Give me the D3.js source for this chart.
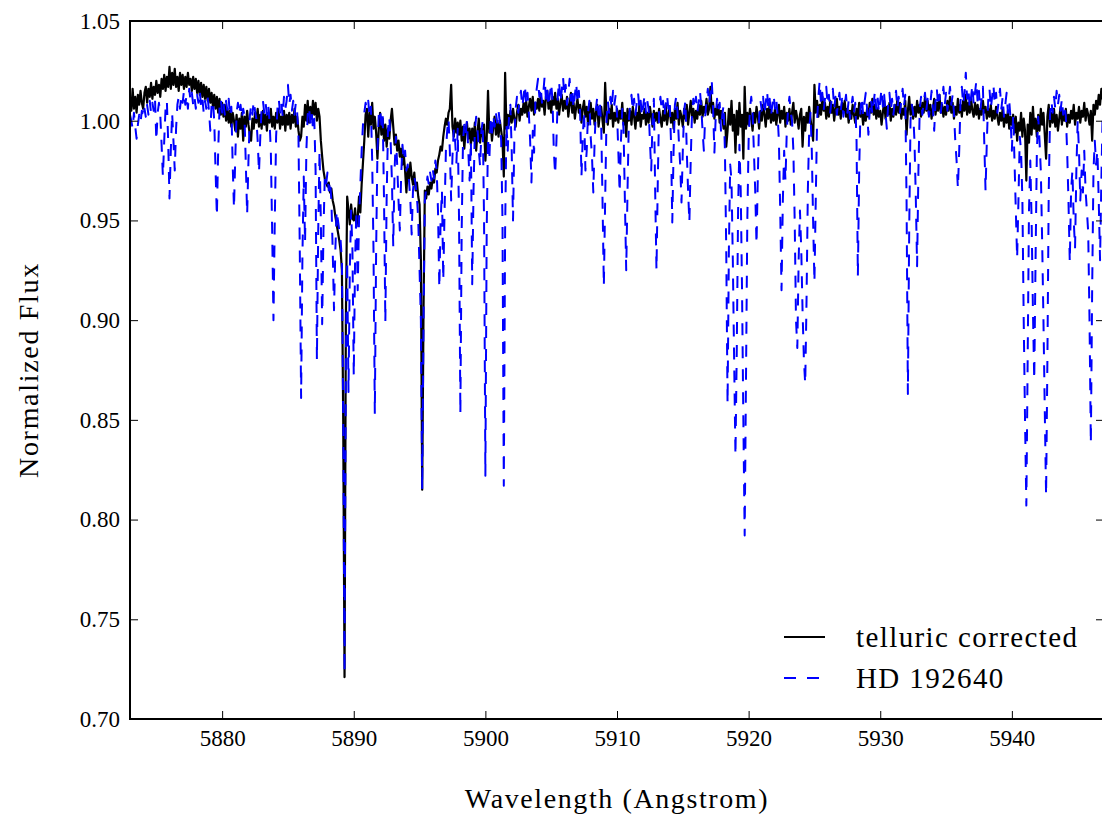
<!DOCTYPE html>
<html>
<head>
<meta charset="utf-8">
<script src="https://cdn.jsdelivr.net/npm/d3@7"></script>
<style>
  body { margin: 0; background: white; }
  svg text { font-family: "Liberation Serif"; fill: black; }
</style>
</head>
<body>
<div id="chart"></div>
<script>
// Spectrum sampling (uniform grid, Angstrom)
const waveStart = 5873.0;
const waveStep = 0.1;

// telluric corrected spectrum, one row per Angstrom (5873.0 ... 5947.0)
const correctedFlux = [
  1.010, 1.005, 1.016, 1.006, 1.012, 1.004, 1.013, 1.008, 1.015, 1.009, // 5873
  1.006, 1.014, 1.017, 1.009, 1.016, 1.012, 1.019, 1.011, 1.017, 1.013, // 5874
  1.020, 1.014, 1.018, 1.012, 1.021, 1.016, 1.023, 1.015, 1.022, 1.017, // 5875
  1.027, 1.016, 1.024, 1.018, 1.026, 1.017, 1.022, 1.015, 1.024, 1.018, // 5876
  1.023, 1.016, 1.022, 1.017, 1.024, 1.018, 1.021, 1.015, 1.022, 1.016, // 5877
  1.021, 1.014, 1.020, 1.013, 1.019, 1.012, 1.018, 1.011, 1.017, 1.010, // 5878
  1.016, 1.009, 1.014, 1.007, 1.013, 1.006, 1.012, 1.004, 1.011, 1.003, // 5879
  1.009, 1.002, 1.008, 1.000, 1.006, 0.999, 1.005, 0.997, 1.004, 1.000, // 5880
  0.995, 1.003, 0.992, 1.001, 0.996, 1.004, 0.990, 1.002, 0.997, 1.005, // 5881
  0.998, 0.993, 0.990, 1.001, 0.996, 1.004, 0.999, 1.006, 0.997, 1.003, // 5882
  0.996, 1.005, 0.998, 1.003, 0.995, 1.004, 0.999, 1.006, 0.997, 1.002, // 5883
  0.996, 1.004, 0.999, 1.006, 0.996, 1.002, 0.998, 1.005, 0.995, 1.003, // 5884
  0.998, 1.004, 0.996, 1.003, 0.999, 1.006, 0.997, 1.002, 0.995, 0.990, // 5885
  0.992, 1.002, 0.997, 1.008, 1.000, 1.010, 0.999, 1.007, 1.001, 1.010, // 5886
  1.003, 1.009, 1.000, 1.006, 1.002, 0.990, 0.982, 0.975, 0.971, 0.969, // 5887
  0.967, 0.969, 0.964, 0.966, 0.960, 0.957, 0.952, 0.948, 0.944, 0.940, // 5888
  0.935, 0.925, 0.850, 0.721, 0.900, 0.962, 0.955, 0.948, 0.958, 0.951, // 5889
  0.950, 0.956, 0.947, 0.951, 0.962, 0.954, 0.968, 0.979, 0.990, 1.003, // 5890
  1.006, 0.992, 1.004, 0.998, 1.009, 0.996, 1.002, 0.994, 0.981, 0.996, // 5891
  1.004, 0.993, 1.001, 0.990, 0.998, 0.987, 0.996, 0.991, 1.000, 1.006, // 5892
  0.997, 0.988, 0.993, 0.985, 0.990, 0.982, 0.986, 0.978, 0.983, 0.975, // 5893
  0.964, 0.976, 0.970, 0.979, 0.972, 0.968, 0.974, 0.965, 0.969, 0.962, // 5894
  0.958, 0.930, 0.815, 0.905, 0.965, 0.961, 0.967, 0.963, 0.969, 0.966, // 5895
  0.971, 0.969, 0.976, 0.974, 0.980, 0.983, 0.987, 0.985, 0.992, 0.997, // 5896
  1.001, 0.998, 1.004, 1.006, 1.018, 0.997, 0.992, 1.001, 0.994, 0.999, // 5897
  0.993, 1.000, 0.990, 0.997, 0.986, 0.995, 0.999, 0.991, 0.996, 0.988, // 5898
  0.996, 0.990, 0.999, 0.985, 0.994, 1.001, 0.989, 0.996, 0.992, 0.998, // 5899
  0.980, 0.991, 1.015, 0.994, 0.999, 0.990, 0.997, 1.002, 0.993, 0.999, // 5900
  0.992, 1.000, 0.995, 0.990, 0.972, 1.024, 0.996, 1.003, 0.998, 1.005, // 5901
  0.999, 1.006, 1.001, 0.997, 1.004, 1.008, 1.000, 1.006, 1.003, 1.009, // 5902
  1.004, 1.010, 1.002, 1.007, 1.011, 1.005, 1.012, 1.003, 1.009, 1.006, // 5903
  1.011, 1.005, 1.013, 1.007, 1.010, 1.003, 1.012, 1.015, 1.006, 1.010, // 5904
  1.004, 1.012, 1.008, 1.014, 1.006, 1.011, 1.003, 1.009, 1.013, 1.005, // 5905
  1.010, 1.006, 1.012, 1.002, 1.008, 1.014, 1.004, 1.009, 1.001, 1.007, // 5906
  1.011, 1.004, 1.008, 0.999, 1.006, 1.010, 1.002, 1.007, 0.998, 1.005, // 5907
  1.009, 1.001, 1.006, 0.998, 1.004, 1.008, 0.997, 1.003, 1.007, 1.000, // 5908
  0.994, 1.019, 1.003, 0.998, 1.006, 1.001, 1.008, 0.997, 1.004, 1.000, // 5909
  1.006, 0.999, 1.005, 1.001, 1.009, 0.998, 1.004, 0.992, 1.006, 1.000, // 5910
  1.005, 0.998, 1.007, 1.002, 0.996, 1.004, 1.000, 1.008, 0.997, 1.003, // 5911
  1.001, 1.006, 0.998, 1.004, 0.999, 1.007, 1.002, 0.997, 1.005, 1.000, // 5912
  1.004, 0.999, 1.006, 1.001, 0.997, 1.005, 1.000, 1.008, 0.998, 1.003, // 5913
  1.007, 0.999, 1.004, 0.996, 1.006, 1.001, 1.009, 0.998, 1.005, 1.002, // 5914
  0.997, 1.006, 1.001, 1.008, 0.998, 1.004, 1.010, 1.002, 1.006, 0.999, // 5915
  1.005, 1.001, 1.008, 1.003, 1.010, 1.002, 1.007, 1.004, 1.011, 1.003, // 5916
  1.006, 1.017, 1.004, 1.009, 1.001, 1.006, 1.003, 1.008, 0.999, 1.005, // 5917
  1.001, 0.996, 1.004, 0.987, 0.995, 1.006, 0.998, 1.010, 0.995, 1.003, // 5918
  0.984, 1.005, 0.993, 1.009, 0.997, 1.003, 0.981, 1.017, 0.996, 1.004, // 5919
  0.998, 1.006, 1.001, 0.995, 1.004, 0.999, 1.007, 1.002, 0.996, 1.005, // 5920
  1.000, 1.008, 1.003, 0.997, 1.006, 1.001, 1.009, 0.999, 1.004, 1.000, // 5921
  1.006, 0.998, 1.003, 1.008, 0.999, 1.005, 1.001, 1.007, 0.997, 1.004, // 5922
  1.000, 1.006, 0.998, 1.004, 1.009, 0.999, 1.005, 1.001, 0.996, 1.003, // 5923
  1.006, 0.987, 1.002, 0.995, 1.004, 0.999, 1.007, 1.001, 0.996, 0.990, // 5924
  1.018, 1.004, 1.010, 1.002, 1.008, 1.003, 1.012, 1.005, 1.009, 1.001, // 5925
  1.007, 1.002, 1.010, 1.004, 1.008, 1.000, 1.006, 1.011, 1.003, 1.007, // 5926
  1.001, 1.009, 1.004, 1.010, 1.002, 1.006, 0.999, 1.005, 1.001, 1.008, // 5927
  1.003, 0.999, 1.006, 1.001, 1.009, 1.002, 1.005, 0.998, 1.004, 1.000, // 5928
  1.006, 1.002, 1.009, 1.004, 1.011, 1.003, 1.008, 1.001, 1.006, 1.002, // 5929
  1.005, 0.998, 1.004, 1.010, 1.001, 1.007, 1.003, 1.009, 1.000, 1.006, // 5930
  1.002, 1.008, 1.003, 1.011, 1.004, 1.009, 1.001, 1.006, 1.003, 1.010, // 5931
  0.993, 1.005, 1.012, 1.003, 1.008, 1.001, 1.007, 1.002, 1.010, 1.004, // 5932
  1.008, 1.002, 1.009, 1.004, 1.012, 1.005, 1.010, 1.003, 1.008, 1.001, // 5933
  1.006, 1.011, 1.003, 1.009, 1.005, 1.013, 1.004, 1.008, 1.002, 1.007, // 5934
  1.003, 1.010, 1.005, 1.012, 1.004, 1.009, 1.001, 1.007, 1.003, 1.011, // 5935
  1.004, 1.008, 1.002, 1.010, 1.005, 1.013, 1.003, 1.009, 1.004, 1.011, // 5936
  1.005, 1.002, 1.009, 1.003, 1.008, 1.001, 1.006, 1.003, 1.010, 1.004, // 5937
  1.007, 1.001, 1.006, 1.002, 1.008, 1.000, 1.005, 1.001, 1.007, 1.002, // 5938
  0.998, 1.004, 1.000, 1.006, 0.997, 1.003, 0.999, 1.005, 0.996, 1.002, // 5939
  0.998, 1.003, 0.994, 1.002, 0.990, 0.999, 0.995, 1.004, 0.992, 1.001, // 5940
  0.995, 0.970, 0.998, 0.989, 1.004, 0.993, 1.007, 0.996, 1.001, 0.992, // 5941
  1.003, 0.995, 1.006, 0.998, 1.004, 0.993, 0.981, 1.002, 1.008, 0.997, // 5942
  1.004, 0.999, 1.006, 0.997, 1.003, 0.995, 1.001, 1.007, 0.998, 1.004, // 5943
  1.000, 1.006, 0.997, 1.003, 0.999, 1.005, 1.001, 1.008, 0.998, 1.004, // 5944
  1.001, 1.007, 0.999, 1.005, 1.002, 1.009, 1.000, 1.006, 1.003, 0.998, // 5945
  1.005, 0.990, 1.008, 1.003, 1.010, 1.006, 1.013, 1.008, 1.016, 1.011, // 5946
  1.019                                                                 // 5947
];

// telluric standard HD 192640, same grid
const standardFlux = [
  1.003, 1.000, 0.996, 1.004, 0.997, 0.991, 0.998, 1.003, 0.999, 1.005, // 5873
  1.001, 1.006, 1.002, 1.008, 1.003, 1.010, 1.004, 1.009, 1.005, 1.011, // 5874
  0.990, 1.004, 1.009, 1.003, 0.988, 0.972, 0.990, 1.006, 1.010, 0.990, // 5875
  0.961, 0.985, 1.004, 0.990, 0.975, 0.996, 1.008, 1.012, 1.006, 1.013, // 5876
  1.009, 1.015, 1.008, 1.013, 1.006, 1.016, 1.010, 1.014, 1.008, 1.012, // 5877
  1.006, 1.013, 1.009, 1.015, 1.007, 1.011, 1.004, 1.010, 1.006, 1.012, // 5878
  1.005, 0.995, 1.008, 1.010, 1.000, 0.975, 0.952, 0.985, 1.006, 1.011, // 5879
  1.004, 1.009, 1.003, 1.010, 1.005, 1.011, 1.002, 1.007, 0.978, 0.956, // 5880
  0.982, 1.004, 1.009, 1.003, 1.008, 1.001, 1.006, 1.002, 0.978, 0.953, // 5881
  0.980, 1.002, 1.008, 1.003, 1.010, 1.005, 1.001, 0.990, 0.974, 0.992, // 5882
  1.006, 1.010, 1.004, 1.009, 1.003, 1.008, 1.000, 0.985, 0.945, 0.900, // 5883
  0.950, 0.992, 1.006, 1.011, 1.004, 1.009, 1.002, 1.012, 1.006, 1.010, // 5884
  1.018, 1.008, 1.013, 1.005, 1.010, 1.003, 1.009, 1.004, 0.992, 0.935, // 5885
  0.861, 0.932, 0.972, 0.939, 0.985, 1.003, 1.007, 0.999, 1.004, 0.996, // 5886
  1.001, 0.975, 0.880, 0.945, 0.985, 0.950, 0.898, 0.945, 0.972, 0.968, // 5887
  0.974, 0.965, 0.970, 0.960, 0.935, 0.905, 0.935, 0.955, 0.950, 0.945, // 5888
  0.940, 0.930, 0.850, 0.723, 0.880, 0.930, 0.864, 0.925, 0.955, 0.935, // 5889
  0.872, 0.930, 0.955, 0.915, 0.950, 0.968, 0.985, 0.998, 1.004, 1.009, // 5890
  1.006, 1.010, 1.002, 1.007, 0.980, 0.935, 0.853, 0.935, 0.985, 1.003, // 5891
  1.006, 0.998, 1.003, 0.960, 0.899, 0.962, 0.995, 1.002, 0.990, 0.970, // 5892
  0.937, 0.975, 0.992, 0.978, 0.960, 0.945, 0.972, 0.988, 0.980, 0.985, // 5893
  0.975, 0.978, 0.970, 0.960, 0.943, 0.965, 0.972, 0.968, 0.962, 0.950, // 5894
  0.925, 0.900, 0.815, 0.900, 0.960, 0.966, 0.972, 0.968, 0.974, 0.970, // 5895
  0.976, 0.971, 0.980, 0.975, 0.955, 0.916, 0.950, 0.965, 0.920, 0.955, // 5896
  0.985, 0.995, 1.001, 0.985, 0.960, 0.982, 0.996, 0.990, 0.979, 0.996, // 5897
  0.950, 0.853, 0.945, 0.990, 0.998, 0.993, 1.000, 0.985, 0.970, 0.990, // 5898
  0.918, 0.965, 0.995, 1.002, 0.996, 0.985, 0.977, 0.995, 1.000, 0.950, // 5899
  0.822, 0.945, 0.992, 0.980, 1.000, 0.994, 1.003, 0.997, 1.004, 0.999, // 5900
  1.005, 0.999, 0.990, 0.950, 0.817, 0.945, 0.998, 0.985, 1.003, 1.008, // 5901
  0.985, 0.950, 0.990, 1.006, 1.012, 1.004, 1.010, 1.015, 1.007, 1.012, // 5902
  1.018, 1.008, 1.014, 1.004, 0.990, 0.969, 0.995, 0.984, 1.010, 1.016, // 5903
  1.021, 1.012, 1.017, 1.009, 1.014, 1.022, 1.011, 1.016, 1.007, 1.013, // 5904
  1.019, 1.010, 0.985, 0.973, 0.990, 1.012, 1.020, 1.009, 1.015, 1.022, // 5905
  1.012, 1.018, 1.008, 1.014, 1.021, 1.010, 1.016, 1.006, 1.013, 1.019, // 5906
  1.009, 1.015, 1.004, 0.972, 0.992, 1.005, 0.975, 0.985, 1.004, 1.010, // 5907
  0.992, 0.982, 0.964, 0.990, 1.006, 1.012, 1.003, 1.009, 0.998, 0.960, // 5908
  0.917, 0.960, 1.000, 1.010, 1.004, 1.012, 1.006, 1.015, 1.008, 1.013, // 5909
  1.004, 0.985, 0.964, 0.990, 1.006, 0.995, 0.960, 0.925, 0.965, 1.000, // 5910
  1.008, 1.013, 1.005, 1.011, 1.003, 1.009, 1.014, 1.006, 1.010, 1.002, // 5911
  1.008, 1.013, 1.004, 1.010, 1.006, 0.990, 0.975, 1.000, 1.011, 0.965, // 5912
  0.925, 0.970, 1.006, 1.012, 1.005, 1.010, 1.002, 1.008, 1.013, 1.006, // 5913
  1.010, 0.990, 0.949, 0.985, 1.008, 1.012, 1.004, 0.990, 0.978, 0.959, // 5914
  0.985, 1.005, 1.010, 0.985, 0.965, 0.949, 0.980, 1.004, 1.011, 1.006, // 5915
  1.012, 1.004, 1.009, 1.015, 1.007, 0.995, 0.985, 1.002, 1.010, 1.016, // 5916
  1.008, 1.014, 1.020, 1.006, 0.984, 1.002, 1.011, 1.005, 1.009, 0.995, // 5917
  1.003, 1.008, 0.985, 0.935, 0.858, 0.935, 0.978, 0.970, 0.930, 0.880, // 5918
  0.832, 0.885, 0.955, 0.988, 0.965, 0.915, 0.850, 0.792, 0.870, 0.950, // 5919
  0.990, 1.006, 1.012, 1.004, 0.985, 0.965, 0.938, 0.972, 1.002, 1.010, // 5920
  1.005, 1.012, 1.003, 1.009, 1.015, 1.006, 1.011, 1.002, 1.008, 1.013, // 5921
  1.006, 1.011, 1.003, 0.990, 0.955, 0.915, 0.960, 0.985, 0.970, 0.995, // 5922
  1.006, 1.012, 1.004, 1.000, 0.985, 0.950, 0.900, 0.886, 0.930, 0.955, // 5923
  0.935, 0.904, 0.880, 0.868, 0.910, 0.965, 0.995, 1.004, 0.985, 0.950, // 5924
  0.919, 0.960, 1.000, 1.012, 1.020, 1.008, 1.014, 1.005, 1.011, 1.017, // 5925
  1.008, 1.013, 1.004, 1.010, 1.016, 1.006, 1.012, 1.003, 1.009, 1.014, // 5926
  1.005, 1.011, 1.002, 1.008, 1.013, 1.004, 1.010, 1.001, 1.007, 1.012, // 5927
  1.004, 1.009, 0.990, 0.922, 0.975, 1.006, 1.012, 1.003, 1.009, 1.014, // 5928
  1.006, 0.993, 1.005, 1.011, 1.003, 1.009, 1.015, 1.006, 1.012, 1.004, // 5929
  1.010, 1.016, 1.007, 1.013, 1.004, 0.996, 1.008, 1.014, 1.005, 1.011, // 5930
  1.003, 1.009, 1.015, 1.006, 1.012, 1.004, 1.010, 1.016, 1.007, 1.013, // 5931
  0.960, 0.863, 0.945, 1.000, 1.008, 1.004, 0.990, 0.962, 0.927, 0.975, // 5932
  1.006, 1.012, 1.003, 1.009, 1.014, 1.005, 1.011, 1.002, 1.008, 1.015, // 5933
  1.006, 0.995, 1.010, 1.016, 1.007, 1.013, 1.004, 1.010, 1.017, 1.008, // 5934
  1.014, 1.005, 1.011, 1.017, 1.008, 1.013, 1.004, 0.990, 0.980, 0.966, // 5935
  0.985, 1.010, 1.017, 1.008, 1.014, 1.024, 1.011, 1.016, 1.006, 1.012, // 5936
  1.018, 1.008, 1.014, 1.020, 1.009, 1.015, 1.005, 1.011, 1.017, 0.990, // 5937
  0.965, 0.990, 1.010, 1.016, 1.006, 1.012, 1.018, 1.008, 1.014, 1.004, // 5938
  1.010, 1.016, 1.006, 1.012, 1.002, 1.008, 1.014, 1.004, 1.010, 1.001, // 5939
  0.985, 1.003, 0.980, 0.955, 0.931, 0.960, 0.992, 0.985, 0.960, 0.900, // 5940
  0.850, 0.807, 0.880, 0.955, 0.980, 0.950, 0.905, 0.870, 0.930, 0.985, // 5941
  1.002, 0.990, 0.975, 0.940, 0.900, 0.855, 0.812, 0.880, 0.964, 1.003, // 5942
  1.010, 1.004, 1.012, 1.006, 1.015, 1.008, 1.013, 1.005, 1.011, 1.003, // 5943
  1.008, 1.002, 0.985, 0.960, 0.929, 0.965, 0.975, 0.950, 0.936, 0.975, // 5944
  1.000, 0.985, 0.960, 0.975, 0.964, 0.985, 0.965, 0.955, 0.944, 0.900, // 5945
  0.838, 0.915, 0.975, 0.990, 0.978, 0.985, 0.960, 0.930, 0.970, 1.005, // 5946
  1.010                                                                 // 5947
];

const seriesNames = ["telluric corrected", "HD 192640"];
const xTicks = [5880, 5890, 5900, 5910, 5920, 5930, 5940];
const yTicks = [0.70, 0.75, 0.80, 0.85, 0.90, 0.95, 1.00, 1.05];

const serif = '"Liberation Serif"';
const width = 1102, height = 816;
// plot box (right edge runs just past the picture)
const box = { left: 130, right: 1104, top: 21, bottom: 719 };

const svg = d3.select("#chart")
  .append("svg")
  .attr("width", width)
  .attr("height", height)
  .style("background", "white");

const xScale = d3.scaleLinear()
  .domain([5873, 5947])
  .range([box.left, box.right]);

const yScale = d3.scaleLinear()
  .domain([0.70, 1.05])
  .range([box.bottom, box.top]);

svg.append("clipPath")
  .attr("id", "plot-clip")
  .append("rect")
  .attr("x", box.left)
  .attr("y", box.top)
  .attr("width", box.right - box.left)
  .attr("height", box.bottom - box.top);

const line = d3.line()
  .x((d, i) => xScale(waveStart + i * waveStep))
  .y(d => yScale(d));

const plot = svg.append("g").attr("clip-path", "url(#plot-clip)");

plot.append("path")
  .datum(correctedFlux)
  .attr("d", line)
  .attr("fill", "none")
  .attr("stroke", "black")
  .attr("stroke-width", 2.2)
  .attr("stroke-linejoin", "round");

plot.append("path")
  .datum(standardFlux)
  .attr("d", line)
  .attr("fill", "none")
  .attr("stroke", "#0000ff")
  .attr("stroke-width", 2)
  .attr("stroke-dasharray", "12,11")
  .attr("stroke-linejoin", "round");

// axes, ticks pointing inward
const bottomAxis = svg.append("g")
  .attr("transform", `translate(0,${box.bottom})`)
  .call(d3.axisBottom(xScale).tickValues(xTicks).tickSize(-8).tickSizeOuter(0)
    .tickPadding(11).tickFormat(d3.format("d")));

const topAxis = svg.append("g")
  .attr("transform", `translate(0,${box.top})`)
  .call(d3.axisTop(xScale).tickValues(xTicks).tickSize(-8).tickSizeOuter(0).tickFormat(""));

const leftAxis = svg.append("g")
  .attr("transform", `translate(${box.left},0)`)
  .call(d3.axisLeft(yScale).tickValues(yTicks).tickSize(-8).tickSizeOuter(0)
    .tickPadding(10).tickFormat(d3.format(".2f")));

const rightAxis = svg.append("g")
  .attr("transform", `translate(${box.right},0)`)
  .call(d3.axisRight(yScale).tickValues(yTicks).tickSize(-8).tickSizeOuter(0).tickFormat(""));

[bottomAxis, topAxis, leftAxis, rightAxis].forEach(ax => {
  ax.attr("font-family", null).attr("font-size", null);
  ax.select(".domain").remove();
  ax.selectAll(".tick line").attr("stroke", "black").attr("stroke-width", 1);
  ax.selectAll(".tick text")
    .attr("fill", "black")
    .style("font-family", serif)
    .style("font-size", "23px");
});

// frame
svg.append("rect")
  .attr("x", box.left)
  .attr("y", box.top)
  .attr("width", box.right - box.left)
  .attr("height", box.bottom - box.top)
  .attr("fill", "none")
  .attr("stroke", "black")
  .attr("stroke-width", 2);

// axis labels
svg.append("text")
  .attr("x", (box.left + box.right) / 2)
  .attr("y", 808)
  .attr("text-anchor", "middle")
  .style("font-family", serif)
  .style("font-size", "28px")
  .style("letter-spacing", "1.6px")
  .text("Wavelength (Angstrom)");

svg.append("text")
  .attr("transform", `translate(38,${(box.top + box.bottom) / 2}) rotate(-90)`)
  .attr("text-anchor", "middle")
  .style("font-family", serif)
  .style("font-size", "28px")
  .style("letter-spacing", "1.7px")
  .text("Normalized Flux");

// legend (no frame)
const legend = svg.append("g").attr("transform", "translate(784,637)");
const legendStyles = [
  { color: "black", dash: null },
  { color: "#0000ff", dash: "12,11" }
];

seriesNames.forEach((name, i) => {
  legend.append("line")
    .attr("x1", 0)
    .attr("x2", 41)
    .attr("y1", i * 41)
    .attr("y2", i * 41)
    .attr("stroke", legendStyles[i].color)
    .attr("stroke-width", 2)
    .attr("stroke-dasharray", legendStyles[i].dash);

  legend.append("text")
    .attr("x", 72)
    .attr("y", i * 41 + 10)
    .style("font-family", serif)
    .style("font-size", "29px")
    .style("letter-spacing", "1.4px")
    .text(name);
});
</script>
</body>
</html>
